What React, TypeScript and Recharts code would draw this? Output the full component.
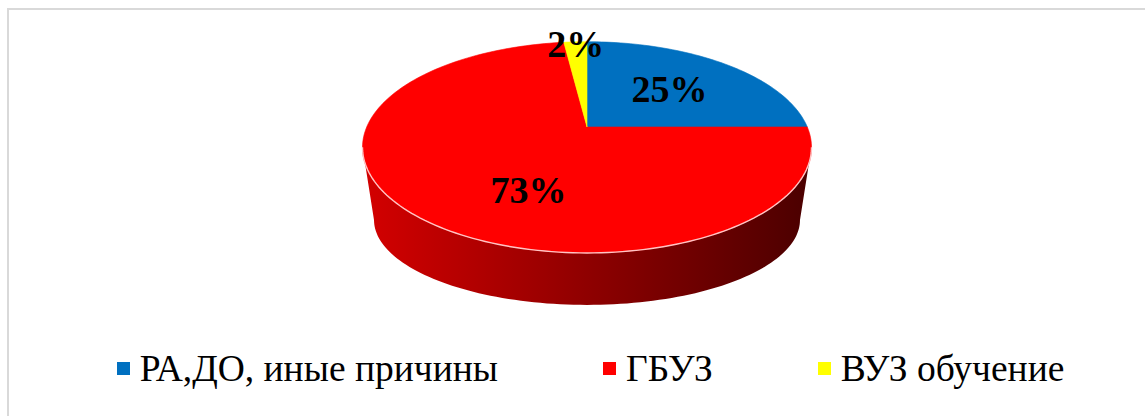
import React from 'react';
import { PieChart, Pie, Cell, Legend } from 'recharts';

const categories = ['РА,ДО, иные причины', 'ГБУЗ', 'ВУЗ обучение'];
const values = [25, 73, 2];
const colors = ['#0070C0', '#FF0000', '#FFFF00'];

const data = categories.map((name, i) => ({ name, value: values[i] }));

// projection of the tilted disc (top face / bottom face)
const K = 0.1926;
const TOP = { a: 220.3, b: 101.7, dy: 0 };
const BOTTOM = { a: 209, b: 81.8, dy: 76.6 };
const LABEL_R = [0.57, 0.38, 0.97];
const LABEL_DROP = [0, 32, 0];
const FONT = '"Liberation Serif", "Times New Roman", serif';

type Geom = { a: number; b: number; dy: number };

const proj = (r: number, deg: number, g: Geom, cx: number, cy: number): [number, number] => {
  const t = (deg * Math.PI) / 180;
  const u = r * Math.cos(t);
  const v = r * Math.sin(t);
  const w = 1 + K * v;
  return [cx + (g.a * u) / w, cy + g.dy - (g.b * v) / w];
};

const arc = (s: number, e: number, g: Geom, cx: number, cy: number) => {
  const n = Math.max(2, Math.ceil(Math.abs(e - s) / 1.5));
  const pts: [number, number][] = [];
  for (let i = 0; i <= n; i++) pts.push(proj(1, s + ((e - s) * i) / n, g, cx, cy));
  return pts;
};

const VIS_LO = 180 + (Math.asin(K) * 180) / Math.PI;
const VIS_HI = 360 - (Math.asin(K) * 180) / Math.PI;

const visibleRanges = (s: number, e: number) => {
  const lo = Math.min(s, e);
  const hi = Math.max(s, e);
  const out: [number, number][] = [];
  for (let n = -3; n <= 2; n++) {
    const a = Math.max(lo, VIS_LO + 360 * n);
    const b = Math.min(hi, VIS_HI + 360 * n);
    if (b > a) out.push([a, b]);
  }
  return out;
};

const toPath = (pts: [number, number][]) => pts.map((p, i) => `${i ? 'L' : 'M'}${p[0].toFixed(2)},${p[1].toFixed(2)}`).join(' ');

const shade = (hex: string, f: number) => {
  const n = parseInt(hex.slice(1), 16);
  const r = Math.round(((n >> 16) & 255) * f);
  const g = Math.round(((n >> 8) & 255) * f);
  const b = Math.round((n & 255) * f);
  return `rgb(${r},${g},${b})`;
};

const idxOf = (props: any) => {
  const name = props?.payload?.name ?? props?.name;
  const i = categories.indexOf(name);
  return i >= 0 ? i : props.index ?? 0;
};

const SideShape = (props: any) => {
  const { cx, cy, startAngle, endAngle } = props;
  const i = idxOf(props);
  const ranges = visibleRanges(startAngle, endAngle);
  const gid = `side-grad-${i}`;
  return (
    <g>
      <defs>
        <linearGradient id={gid} gradientUnits="userSpaceOnUse" x1={cx - 225} y1={0} x2={cx + 225} y2={0}>
          <stop offset="0" stopColor={shade(colors[i], 0.83)} />
          <stop offset="1" stopColor={shade(colors[i], 0.29)} />
        </linearGradient>
      </defs>
      {ranges.map(([s, e], k) => {
        const top = arc(s, e, TOP, cx, cy);
        const bot = arc(e, s, BOTTOM, cx, cy);
        return <path key={k} d={toPath([...top, ...bot]) + ' Z'} fill={`url(#${gid})`} stroke="none" />;
      })}
    </g>
  );
};

const TopShape = (props: any) => {
  const { cx, cy, startAngle, endAngle } = props;
  const i = idxOf(props);
  const fill = colors[i];
  const pts = arc(startAngle, endAngle, TOP, cx, cy);
  const d = `M${cx},${cy} ` + toPath(pts).replace(/^M/, 'L') + ' Z';
  const ranges = visibleRanges(startAngle, endAngle);
  return (
    <g>
      <path d={d} fill={fill} stroke={fill} strokeWidth={0.6} />
      {ranges.map(([s, e], k) => (
        <path key={k} d={toPath(arc(s, e, TOP, cx, cy))} fill="none" stroke="#ffc4c4" strokeWidth={1.4} />
      ))}
    </g>
  );
};

const renderLabel = (props: any) => {
  const { cx, cy, midAngle, value } = props;
  const i = idxOf(props);
  const [x, y] = proj(LABEL_R[i], midAngle, TOP, cx, cy);
  return (
    <text
      x={x}
      y={y + LABEL_DROP[i]}
      textAnchor="middle"
      dominantBaseline="central"
      fontFamily={FONT}
      fontWeight="bold"
      fontSize={38}
      fill="#000"
    >
      {`${value}%`}
    </text>
  );
};

const renderLegend = () => (
  <div
    style={{
      display: 'flex',
      justifyContent: 'center',
      alignItems: 'center',
      paddingLeft: 36,
      fontFamily: FONT,
      fontSize: 37.5,
      lineHeight: '37px',
      color: '#000',
      whiteSpace: 'nowrap',
    }}
  >
    {categories.map((c, i) => (
      <div key={c} style={{ display: 'flex', alignItems: 'center', marginLeft: i ? 105 : 0 }}>
        <span style={{ display: 'inline-block', width: 13, height: 13, background: colors[i], marginRight: 10 }} />
        <span>{c}</span>
      </div>
    ))}
  </div>
);

export default function App() {
  return (
    <div style={{ position: 'fixed', left: 0, top: 0, width: 1145, height: 416, overflow: 'hidden', background: '#fff' }}>
      <div
        style={{
          position: 'absolute',
          left: 7,
          top: 8,
          width: 1200,
          height: 500,
          border: '2px solid #d9d9d9',
          boxSizing: 'border-box',
        }}
      />
      <div style={{ position: 'absolute', left: 0, top: 0 }}>
        <PieChart width={1145} height={416} margin={{ top: 0, right: 0, bottom: 0, left: 0 }}>
          <Pie
            data={data}
            dataKey="value"
            nameKey="name"
            cx={587}
            cy={127}
            outerRadius={200}
            startAngle={90}
            endAngle={-270}
            isAnimationActive={false}
            legendType="none"
            shape={SideShape}
            activeShape={SideShape}
            inactiveShape={SideShape}
            stroke="none"
          >
            {data.map((d, i) => (
              <Cell key={d.name} fill={colors[i]} />
            ))}
          </Pie>
          <Pie
            data={data}
            dataKey="value"
            nameKey="name"
            cx={587}
            cy={127}
            outerRadius={200}
            startAngle={90}
            endAngle={-270}
            isAnimationActive={false}
            shape={TopShape}
            activeShape={TopShape}
            inactiveShape={TopShape}
            label={renderLabel}
            labelLine={false}
            stroke="none"
          >
            {data.map((d, i) => (
              <Cell key={d.name} fill={colors[i]} />
            ))}
          </Pie>
          <Legend content={renderLegend} wrapperStyle={{ left: 0, top: 350, width: 1145, height: 37 }} />
        </PieChart>
      </div>
    </div>
  );
}
